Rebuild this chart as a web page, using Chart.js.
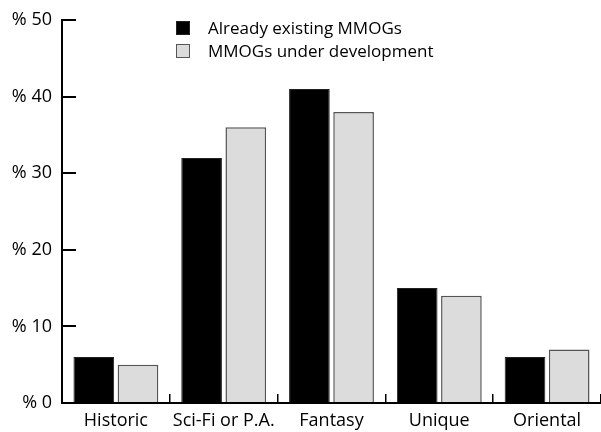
<!DOCTYPE html>
<html>
<head>
<meta charset="utf-8">
<script src="https://cdn.jsdelivr.net/npm/chart.js@4.4.1/dist/chart.umd.min.js"></script>
<style>
  html, body { margin: 0; padding: 0; background: #fff; overflow: hidden; }
  #wrap { position: relative; width: 601px; height: 432px; }
  #legend { position: absolute; left: 176px; top: 16px; font: 17px "Open Sans", sans-serif; color: #000; }
  .row { display: flex; align-items: center; height: 23px; }
  .box { width: 14px; height: 14px; box-sizing: border-box; margin-right: 18px; }
</style>
</head>
<body>
<div id="wrap">
  <canvas id="c" width="601" height="432"></canvas>
  <div id="legend"></div>
</div>
<script>
const categories = ["Historic", "Sci-Fi or P.A.", "Fantasy", "Unique", "Oriental"];
const existing = [6, 32, 41, 15, 6];
const inDevelopment = [5, 36, 38, 14, 7];
const yTicks = [0, 10, 20, 30, 40, 50];

const fontFamily = '"Open Sans", sans-serif';

const chart = new Chart(document.getElementById("c"), {
    type: "bar",
    data: {
        labels: categories,
        datasets: [
            {
                label: "Already existing MMOGs",
                data: existing,
                backgroundColor: "#000",
                borderColor: "#222",
                borderWidth: 1
            },
            {
                label: "MMOGs under development",
                data: inDevelopment,
                backgroundColor: "#dcdcdc",
                borderColor: "#555",
                borderWidth: 1.5
            }
        ]
    },
    options: {
        responsive: false,
        animation: false,
        layout: { padding: { top: 20, right: 0 } },
        categoryPercentage: 0.82,
        barPercentage: 0.92,
        plugins: {
            legend: { display: false },
            tooltip: { enabled: false }
        },
        scales: {
            x: {
                border: { display: true, color: "#000", width: 2 },
                grid: {
                    offset: true,
                    drawOnChartArea: false,
                    drawTicks: true,
                    tickLength: -9,
                    color: "#000",
                    lineWidth: 1.5
                },
                ticks: {
                    color: "#000",
                    padding: 16,
                    maxRotation: 0,
                    minRotation: 0,
                    autoSkip: false,
                    font: { family: fontFamily, size: 18 }
                },
                afterFit(scale) {
                    scale.height = 29;
                    scale.paddingLeft = 0;
                    scale.paddingRight = 0;
                }
            },
            y: {
                min: 0,
                max: 50,
                afterBuildTicks(scale) {
                    scale.ticks = yTicks.map(v => ({ value: v }));
                },
                border: { display: true, color: "#000", width: 2 },
                grid: {
                    drawOnChartArea: false,
                    drawTicks: true,
                    tickLength: -14,
                    color: "#000",
                    lineWidth: 2
                },
                ticks: {
                    color: "#000",
                    padding: 24,
                    font: { family: fontFamily, size: 18 },
                    callback: v => "% " + v
                },
                afterFit(scale) {
                    scale.width = 62;
                    // inward tick marks inflate the label overhang, drop it
                    scale.paddingTop = 0;
                    scale.paddingBottom = 0;
                }
            }
        }
    }
});

// legend built from the dataset definitions
const legend = document.getElementById("legend");
chart.data.datasets.forEach(ds => {
    const row = document.createElement("div");
    row.className = "row";
    const box = document.createElement("span");
    box.className = "box";
    box.style.background = ds.backgroundColor;
    box.style.border = "1.5px solid " + ds.borderColor;
    const txt = document.createElement("span");
    txt.textContent = ds.label;
    row.appendChild(box);
    row.appendChild(txt);
    legend.appendChild(row);
});
</script>
</body>
</html>
